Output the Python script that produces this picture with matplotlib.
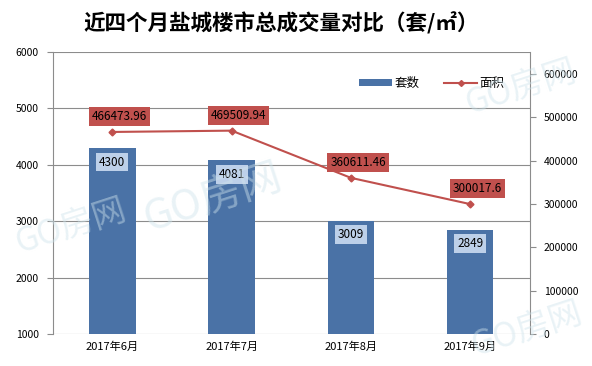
import matplotlib
matplotlib.use('Agg')
import matplotlib.pyplot as plt
import numpy as np
from matplotlib.lines import Line2D
from matplotlib.patches import Patch

plt.rcParams['font.family'] = ['Noto Sans CJK SC', 'DejaVu Sans']

months = ['2017年6月', '2017年7月', '2017年8月', '2017年9月']
units = [4300, 4081, 3009, 2849]                      # 套数
area = [466473.96, 469509.94, 360611.46, 300017.6]    # 面积
area_labels = ['466473.96', '469509.94', '360611.46', '300017.6']

bar_color = '#4A72A6'
line_color = '#C0504D'
grid_color = '#8C8C8C'

fig = plt.figure(figsize=(5.92, 3.66), dpi=100)
ax = fig.add_axes([0.089, 0.087, 0.806, 0.771])
ax2 = ax.twinx()

x = np.arange(len(months))
ax.bar(x, units, width=0.39, color=bar_color, zorder=2)
ax.set_xlim(-0.5, len(months) - 0.5)
ax.set_ylim(1000, 6000)
ax.set_yticks(np.arange(1000, 6001, 1000))
ax.set_xticks(x)
ax.set_xticklabels(months, fontsize=8)
ax.grid(axis='y', color=grid_color, linewidth=0.8, zorder=0)
ax.set_axisbelow(True)
ax.tick_params(axis='y', labelsize=7.5, length=4, color=grid_color, pad=6)
ax.tick_params(axis='x', length=0, pad=5)
for s in ['top', 'right', 'bottom']:
    ax.spines[s].set_visible(False)
ax.spines['left'].set_color(grid_color)

# bar value labels
for xi, v in zip(x, units):
    ax.text(xi, v - 250, str(v), ha='center', va='center', fontsize=8.5,
            zorder=5,
            bbox=dict(boxstyle='square,pad=0.25', fc='#BDD0E9', ec='none'))

ax2.plot(x, area, color=line_color, linewidth=1.5, marker='D', markersize=3.5,
         zorder=4)
ax2.set_ylim(0, 651000)
ax2.set_yticks(np.arange(0, 600001, 100000))
ax2.tick_params(axis='y', labelsize=7.5, length=4, color=grid_color, pad=6)
for s in ['top', 'left', 'bottom']:
    ax2.spines[s].set_visible(False)
ax2.spines['right'].set_color(grid_color)

for xi, v, lab in zip(x, area, area_labels):
    ax2.text(xi + 0.06, v + 35000, lab, ha='center', va='center', fontsize=8.5,
             zorder=5,
             bbox=dict(boxstyle='square,pad=0.25', fc=line_color, ec='none'))

handles = [Patch(facecolor=bar_color, label='套数'),
           Line2D([0], [0], color=line_color, marker='D', markersize=3,
                  linewidth=1.5, label='面积')]
ax2.legend(handles=handles, loc='upper right', bbox_to_anchor=(0.97, 0.95),
           ncol=2, frameon=False, fontsize=9, handlelength=2.6,
           handleheight=0.5, columnspacing=2.0, handletextpad=0.2)

fig.text(0.475, 0.935, '近四个月盐城楼市总成交量对比（套/㎡）', ha='center',
         va='center', fontsize=15.5, fontweight='bold')

# faint watermarks
for wx, wy, fs in [(0.36, 0.46, 30), (0.12, 0.38, 24), (0.88, 0.76, 24),
                   (0.89, 0.1, 24)]:
    fig.text(wx, wy, 'GO房网', fontsize=fs, color='#CFE4EC', alpha=0.45,
             rotation=18, ha='center', va='center', zorder=10)

fig.savefig('out.png', dpi=100)
